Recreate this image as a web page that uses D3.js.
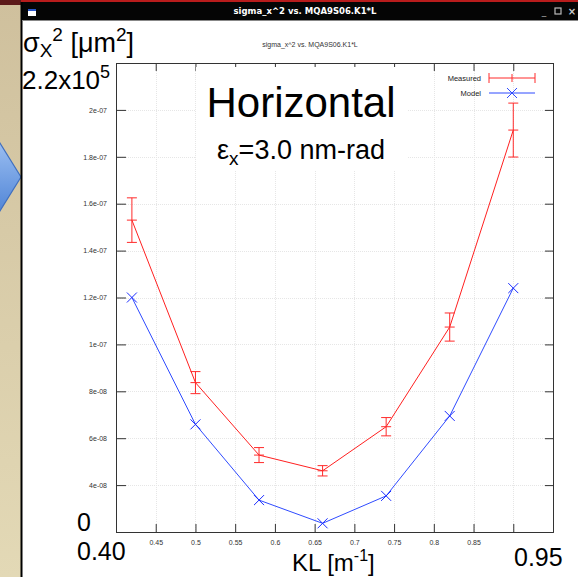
<!DOCTYPE html>
<html>
<head>
<meta charset="utf-8">
<script src="https://cdn.jsdelivr.net/npm/d3@7"></script>
<style>
body { margin: 0; padding: 0; background: #fff; }
svg { display: block; }
</style>
</head>
<body>
<div class="chart"></div>
<script>
// values
var kl = [0.42, 0.50, 0.58, 0.66, 0.74, 0.82, 0.90];
var measured = [1.53e-7, 8.37e-8, 5.28e-8, 4.61e-8, 6.49e-8, 1.074e-7, 1.914e-7];
var measuredErr = [9.5e-9, 4.7e-9, 3.2e-9, 2.2e-9, 3.9e-9, 6.0e-9, 1.15e-8];
var model = [1.20e-7, 6.59e-8, 3.36e-8, 2.37e-8, 3.54e-8, 6.95e-8, 1.24e-7];
var xTicks = [0.4, 0.45, 0.5, 0.55, 0.6, 0.65, 0.7, 0.75, 0.8, 0.85, 0.9, 0.95];
// "" where the slide's own labels are pasted over gnuplot's
var xTickLabels = ["", "0.45", "0.5", "0.55", "0.6", "0.65", "0.7", "0.75", "0.8", "0.85", "", ""];
var yTicks = [2e-8, 4e-8, 6e-8, 8e-8, 1e-7, 1.2e-7, 1.4e-7, 1.6e-7, 1.8e-7, 2e-7, 2.2e-7];
var yTickLabels = ["", "4e-08", "6e-08", "8e-08", "1e-07", "1.2e-07", "1.4e-07", "1.6e-07", "1.8e-07", "2e-07", ""];
var legendNames = ["Measured", "Model"];

var width = 578;
var height = 577;
var plotL = 116, plotR = 553, plotT = 63, plotB = 532;

var svg = d3.select(".chart").append("svg")
	.attr("width", width)
	.attr("height", height);
var defs = svg.append("defs");

var bg = defs.append("linearGradient").attr("id", "beige")
	.attr("x1", 0).attr("y1", 0).attr("x2", 0).attr("y2", 1);
bg.append("stop").attr("offset", "0").attr("stop-color", "#cfc09d");
bg.append("stop").attr("offset", "1").attr("stop-color", "#e3d9b6");

var ar = defs.append("linearGradient").attr("id", "arrowfill")
	.attr("x1", 0).attr("y1", 0).attr("x2", 0).attr("y2", 1);
ar.append("stop").attr("offset", "0").attr("stop-color", "#9dc0f2");
ar.append("stop").attr("offset", "1").attr("stop-color", "#4f84d6");

// slide behind the window
svg.append("rect").attr("x", 0).attr("y", 0).attr("width", 22).attr("height", height).attr("fill", "url(#beige)");
svg.append("rect").attr("x", 0).attr("y", 0).attr("width", 22).attr("height", 5).attr("fill", "#5c1a1a");
svg.append("path")
	.attr("d", "M-2,140 L21,177 L-2,214 Z")
	.attr("fill", "url(#arrowfill)")
	.attr("stroke", "#3f6fbf")
	.attr("stroke-width", 1.2);

// window
svg.append("rect").attr("x", 21).attr("y", 0).attr("width", width - 21).attr("height", 2).attr("fill", "#b81c1c");
svg.append("rect").attr("x", 21).attr("y", 2).attr("width", width - 21).attr("height", 18).attr("fill", "#050505");
svg.append("rect").attr("x", 21).attr("y", 20).attr("width", width - 21).attr("height", height - 20).attr("fill", "#fff");
svg.append("line").attr("x1", 21.5).attr("x2", 21.5).attr("y1", 2).attr("y2", height)
	.attr("stroke", "#000").attr("stroke-width", 2);
svg.append("line").attr("x1", 22).attr("x2", width).attr("y1", 20.5).attr("y2", 20.5)
	.attr("stroke", "#888").attr("stroke-width", 1);
svg.append("rect").attr("x", 28).attr("y", 9).attr("width", 8).attr("height", 7).attr("fill", "#fff");
svg.append("rect").attr("x", 28).attr("y", 9).attr("width", 8).attr("height", 2).attr("fill", "#2a55c8");
svg.append("text").attr("x", 305).attr("y", 14)
	.attr("text-anchor", "middle")
	.style("font-family", "DejaVu Sans, sans-serif")
	.style("font-size", "8.5px").style("font-weight", "bold")
	.attr("fill", "#fff")
	.text("sigma_x^2 vs. MQA9S06.K1*L");
svg.append("text").attr("x", 544).attr("y", 15).attr("text-anchor", "middle")
	.style("font-family", "DejaVu Sans, sans-serif").style("font-size", "9px").attr("fill", "#bbb").text("_");
svg.append("rect").attr("x", 555).attr("y", 8).attr("width", 6).attr("height", 6)
	.attr("fill", "none").attr("stroke", "#bbb").attr("stroke-width", 1.2);
svg.append("text").attr("x", 572).attr("y", 15).attr("text-anchor", "middle")
	.style("font-family", "DejaVu Sans, sans-serif").style("font-size", "10px").style("font-weight", "bold")
	.attr("fill", "#ccc").text("\u00d7");

// gnuplot plot
var x = d3.scaleLinear().domain([0.40, 0.95]).range([plotL, plotR]);
var y = d3.scaleLinear().domain([2e-8, 2.2e-7]).range([plotB, plotT]);

svg.append("text").attr("x", 310).attr("y", 47).attr("text-anchor", "middle")
	.style("font-family", "Liberation Sans, Arial, sans-serif").style("font-size", "7px")
	.attr("fill", "#333").text("sigma_x^2 vs. MQA9S06.K1*L");

var grid = svg.append("g").attr("stroke", "#e6e6e6").attr("stroke-width", 1).attr("stroke-dasharray", "1,1");
grid.selectAll(".gx").data(xTicks.slice(1, -1)).enter().append("line")
	.attr("x1", function(d) { return Math.round(x(d)) + 0.5; })
	.attr("x2", function(d) { return Math.round(x(d)) + 0.5; })
	.attr("y1", plotT).attr("y2", plotB);
grid.selectAll(".gy").data(yTicks.slice(1, -1)).enter().append("line")
	.attr("y1", function(d) { return Math.round(y(d)) + 0.5; })
	.attr("y2", function(d) { return Math.round(y(d)) + 0.5; })
	.attr("x1", plotL).attr("x2", plotR);

var axes = svg.append("g");
axes.append("g").attr("transform", "translate(0," + plotB + ")")
	.call(d3.axisBottom(x).tickValues(xTicks).tickSize(-8).tickPadding(8)
		.tickFormat(function(d, i) { return xTickLabels[i]; }));
axes.append("g").attr("transform", "translate(0," + plotT + ")")
	.call(d3.axisTop(x).tickValues(xTicks).tickSize(-8).tickFormat(""));
axes.append("g").attr("transform", "translate(" + plotL + ",0)")
	.call(d3.axisLeft(y).tickValues(yTicks).tickSize(-10).tickPadding(9)
		.tickFormat(function(d, i) { return yTickLabels[i]; }));
axes.append("g").attr("transform", "translate(" + plotR + ",0)")
	.call(d3.axisRight(y).tickValues(yTicks).tickSize(-8).tickFormat(""));
axes.selectAll(".domain").attr("stroke", "#333");
axes.selectAll(".tick line").attr("stroke", "#333");
axes.selectAll("text")
	.style("font-family", "Liberation Sans, Arial, sans-serif")
	.style("font-size", "7px").attr("fill", "#333");

// model line + crosses
var line = d3.line()
	.x(function(d) { return x(d[0]); })
	.y(function(d) { return y(d[1]); });
var modelPts = kl.map(function(k, i) { return [k, model[i]]; });
var measPts = kl.map(function(k, i) { return [k, measured[i], measuredErr[i]]; });

svg.append("path").datum(modelPts).attr("d", line)
	.attr("fill", "none").attr("stroke", "#2f4bff").attr("stroke-width", 1);
svg.selectAll(".cross").data(modelPts).enter().append("path")
	.attr("d", function(d) {
		var cx = x(d[0]), cy = y(d[1]), s = 5;
		return "M" + (cx - s) + "," + (cy - s) + "L" + (cx + s) + "," + (cy + s) +
			"M" + (cx - s) + "," + (cy + s) + "L" + (cx + s) + "," + (cy - s);
	})
	.attr("stroke", "#1a2cff").attr("stroke-width", 1).attr("fill", "none");

// measured line + error bars
svg.append("path").datum(measPts).attr("d", line)
	.attr("fill", "none").attr("stroke", "#ff2020").attr("stroke-width", 1);
svg.selectAll(".err").data(measPts).enter().append("path")
	.attr("d", function(d) {
		var cx = x(d[0]), yt = y(d[1] + d[2]), yb = y(d[1] - d[2]), yc = y(d[1]), c = 5;
		return "M" + cx + "," + yt + "L" + cx + "," + yb +
			"M" + (cx - c) + "," + yt + "L" + (cx + c) + "," + yt +
			"M" + (cx - c) + "," + yb + "L" + (cx + c) + "," + yb +
			"M" + (cx - c) + "," + yc + "L" + (cx + c) + "," + yc;
	})
	.attr("stroke", "#ff2a2a").attr("stroke-width", 1).attr("fill", "none");

// legend
var lg = svg.append("g").style("font-family", "Liberation Sans, Arial, sans-serif").style("font-size", "7.5px");
lg.selectAll("text").data(legendNames).enter().append("text")
	.attr("x", 481).attr("y", function(d, i) { return 81 + i * 15; })
	.attr("text-anchor", "end").attr("fill", "#222").text(function(d) { return d; });
lg.append("path")
	.attr("d", "M489,78L535,78M489,73L489,83M535,73L535,83M512,74L512,82")
	.attr("stroke", "#ff2a2a").attr("fill", "none");
lg.append("path")
	.attr("d", "M489,93L535,93M507,88L517,98M507,98L517,88")
	.attr("stroke", "#2f4bff").attr("fill", "none");

// slide overlays
var big = "Liberation Sans, Arial, sans-serif";
svg.append("rect").attr("x", 23).attr("y", 64).attr("width", 92).attr("height", 28).attr("fill", "#fff");
svg.append("rect").attr("x", 196).attr("y", 67).attr("width", 212).attr("height", 104).attr("fill", "#fff");
svg.append("rect").attr("x", 509).attr("y", 540).attr("width", 64).attr("height", 28).attr("fill", "#fff");

var t1 = svg.append("text").attr("x", 23).attr("y", 52).style("font-family", big).style("font-size", "27px").attr("fill", "#000");
t1.append("tspan").text("\u03c3");
t1.append("tspan").attr("dy", 5).style("font-size", "19px").text("X");
t1.append("tspan").attr("dy", -16).style("font-size", "19px").text("2");
t1.append("tspan").attr("dy", 11).text(" [\u03bcm");
t1.append("tspan").attr("dy", -11).style("font-size", "19px").text("2");
t1.append("tspan").attr("dy", 11).text("]");

var t2 = svg.append("text").attr("x", 22).attr("y", 89).style("font-family", big).style("font-size", "26px").attr("fill", "#000");
t2.append("tspan").text("2.2x10");
t2.append("tspan").attr("dy", -11).style("font-size", "18px").text("5");

svg.append("text").attr("x", 301).attr("y", 117).attr("text-anchor", "middle")
	.style("font-family", big).style("font-size", "42px").attr("fill", "#000").text("Horizontal");
var t3 = svg.append("text").attr("x", 301).attr("y", 159).attr("text-anchor", "middle")
	.style("font-family", big).style("font-size", "27px").attr("fill", "#000");
t3.append("tspan").text("\u03b5");
t3.append("tspan").attr("dy", 6).style("font-size", "19px").text("x");
t3.append("tspan").attr("dy", -6).text("=3.0 nm-rad");

svg.append("text").attr("x", 77).attr("y", 531).style("font-family", big).style("font-size", "25px").attr("fill", "#000").text("0");
svg.append("text").attr("x", 77).attr("y", 560).style("font-family", big).style("font-size", "25px").attr("fill", "#000").text("0.40");
svg.append("text").attr("x", 514).attr("y", 566).style("font-family", big).style("font-size", "25px").attr("fill", "#000").text("0.95");
var t4 = svg.append("text").attr("x", 292).attr("y", 571).style("font-family", big).style("font-size", "24px").attr("fill", "#000");
t4.append("tspan").text("KL [m");
t4.append("tspan").attr("dy", -10).style("font-size", "16px").text("-1");
t4.append("tspan").attr("dy", 10).text("]");
</script>
</body>
</html>
